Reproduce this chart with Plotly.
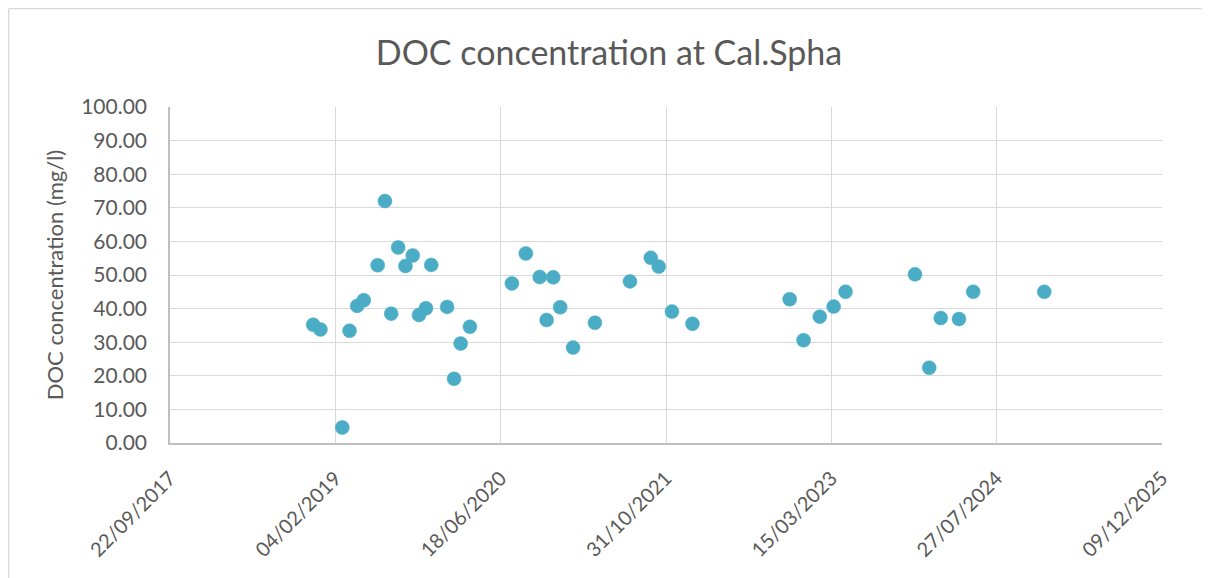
import plotly.graph_objects as go

dates = [
    "2018-11-29", "2018-12-21", "2019-02-25", "2019-03-19", "2019-04-11",
    "2019-05-01", "2019-06-12", "2019-07-04", "2019-07-23", "2019-08-13",
    "2019-09-04", "2019-09-26", "2019-10-15", "2019-11-05", "2019-11-21",
    "2020-01-08", "2020-01-29", "2020-02-18", "2020-03-17",
    "2020-07-22", "2020-09-02", "2020-10-14", "2020-11-24", "2020-11-04",
    "2020-12-15", "2021-01-23", "2021-03-30", "2021-07-14", "2021-09-15",
    "2021-10-09", "2021-11-18", "2022-01-19",
    "2022-11-09", "2022-12-21", "2023-02-08", "2023-03-22", "2023-04-27",
    "2023-11-23", "2024-01-05", "2024-02-09", "2024-04-04", "2024-05-17",
    "2024-12-18",
]
doc = [
    35.2, 33.8, 4.6, 33.4, 40.8,
    42.5, 52.9, 72.0, 38.5, 58.2,
    52.7, 55.8, 38.1, 40.1, 53.0,
    40.5, 19.1, 29.6, 34.6,
    47.5, 56.4, 49.4, 49.3, 36.6,
    40.4, 28.4, 35.8, 48.1, 55.1,
    52.5, 39.1, 35.5,
    42.8, 30.6, 37.6, 40.6, 45.0,
    50.2, 22.4, 37.2, 36.9, 45.0,
    45.0,
]

x_start = "2017-09-22"
x_end = "2025-12-09"
tick_days = 500
y_ticks = [0, 10, 20, 30, 40, 50, 60, 70, 80, 90, 100]

title_text = "DOC concentration at Cal.Spha"
y_title = "DOC concentration (mg/l)"

FONT = "Lato"
TXT = "#595959"
GRID = "#D9D9D9"

fig = go.Figure()
fig.add_trace(go.Scatter(
    x=dates, y=doc, mode="markers",
    marker=dict(color="#4BACC6", size=14, line=dict(color="#4BACC6", width=0.5)),
    showlegend=False,
))

# page has an 8px body margin; figure sized to fit the 1210x578 window
W, H = 1202, 570
L, R, T, B = 162, 48, 99, 135
pw = W - L - R
ph = H - T - B

fig.update_layout(
    width=W, height=H,
    margin=dict(l=L, r=R, t=T, b=B),
    paper_bgcolor="white", plot_bgcolor="white",
    font=dict(family=FONT, color=TXT),
    title=dict(text=title_text, x=0.5, xanchor="center", y=1 - 45 / H, yanchor="middle",
               font=dict(size=34, color=TXT, family=FONT)),
    xaxis=dict(
        type="date", range=[x_start, x_end],
        tick0=x_start, dtick=tick_days * 86400000,
        tickformat="%d/%m/%Y", tickangle=-45,
        tickfont=dict(size=20, color=TXT),
        showgrid=True, gridcolor=GRID, gridwidth=1.3,
        showline=True, linecolor="#BFBFBF", linewidth=1.5,
        ticks="", zeroline=False,
        ticklabelstandoff=14,
    ),
    yaxis=dict(
        range=[0, 100], tickvals=y_ticks,
        tickformat=".2f",
        tickfont=dict(size=21, color=TXT),
        showgrid=True, gridcolor=GRID, gridwidth=1.3,
        showline=True, linecolor="#BFBFBF", linewidth=1.5,
        ticks="", zeroline=False,
        ticklabelstandoff=17,
        title=dict(text=y_title, font=dict(size=22, color=TXT), standoff=11),
    ),
)

# chart outer border (left and top edges visible)
bx = (0.7 - L) / pw
by = (H - B - 0.7) / ph
fig.add_shape(type="line", xref="paper", yref="paper", x0=bx, x1=bx, y0=by, y1=-1,
              line=dict(color=GRID, width=1.3))
fig.add_shape(type="line", xref="paper", yref="paper", x0=bx, x1=2, y0=by, y1=by,
              line=dict(color=GRID, width=1.3))

fig.write_html("out.html")
